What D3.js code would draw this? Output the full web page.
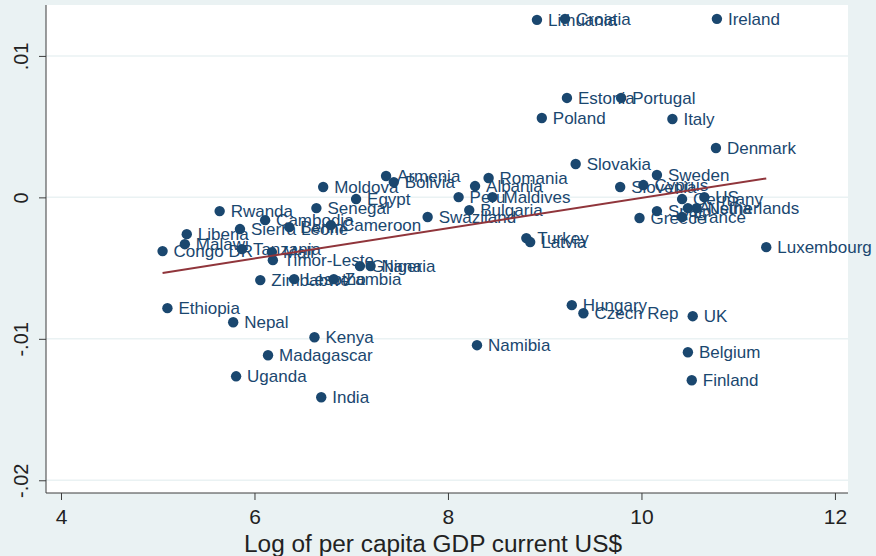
<!DOCTYPE html>
<html>
<head>
<meta charset="utf-8">
<script src="https://cdn.jsdelivr.net/npm/d3@7"></script>
<style>
  body { margin: 0; background: #eaf2f3; }
  text { font-family: "Liberation Sans", Arial, sans-serif; }
</style>
</head>
<body>
<svg id="chart"></svg>
<script>
// Countries, log GDP per capita (x) and residual (y)
const countries = ["Lithuania", "Croatia", "Ireland", "Estonia", "Portugal", "Poland", "Italy", "Denmark",
  "Slovakia", "Sweden", "Slovenia", "Cyprus", "Germany", "US", "Spain", "Greece", "France", "Austria",
  "Netherlands", "Luxembourg", "Hungary", "Czech Rep", "UK", "Belgium", "Finland", "Namibia",
  "Romania", "Albania", "Peru", "Maldives", "Bulgaria", "Turkey", "Latvia", "Swaziland",
  "Armenia", "Bolivia", "Moldova", "Egypt", "Senegal", "Cameroon", "Rwanda", "Cambodia",
  "Sierra Leone", "Benin", "Liberia", "Malawi", "Congo DR", "Tanzania", "Mali", "Timor-Leste",
  "Ghana", "Nigeria", "Zimbabwe", "Lesotho", "Zambia", "Ethiopia", "Nepal", "Kenya",
  "Madagascar", "Uganda", "India"];
const logGdp = [8.92, 9.21, 10.78, 9.23, 9.79, 8.97, 10.32, 10.77,
  9.32, 10.16, 9.78, 10.02, 10.42, 10.65, 10.16, 9.98, 10.42, 10.48,
  10.57, 11.29, 9.28, 9.40, 10.53, 10.48, 10.52, 8.30,
  8.42, 8.28, 8.11, 8.46, 8.22, 8.81, 8.85, 7.79,
  7.36, 7.44, 6.71, 7.05, 6.64, 6.79, 5.64, 6.11,
  5.85, 6.36, 5.30, 5.28, 5.05, 5.87, 6.18, 6.19,
  7.09, 7.20, 6.06, 6.41, 6.82, 5.10, 5.78, 6.62,
  6.14, 5.81, 6.69];
const resid = [0.01255, 0.01262, 0.01262, 0.00703, 0.00703, 0.00561, 0.00554, 0.00349,
  0.00236, 0.00158, 0.00073, 0.00087, -0.00012, 0.00002, -0.00097, -0.00146, -0.00139, -0.00076,
  -0.00076, -0.00352, -0.00762, -0.00819, -0.00840, -0.01095, -0.01293, -0.01045,
  0.00137, 0.00080, 0.00002, 0.00002, -0.00090, -0.00288, -0.00316, -0.00139,
  0.00151, 0.00108, 0.00073, -0.00012, -0.00076, -0.00196, -0.00097, -0.00161,
  -0.00224, -0.00210, -0.00260, -0.00331, -0.00380, -0.00366, -0.00387, -0.00444,
  -0.00486, -0.00486, -0.00585, -0.00578, -0.00578, -0.00783, -0.00883, -0.00989,
  -0.01116, -0.01265, -0.01413];

// Fitted line end points
const fitX = [5.05, 11.29];
const fitY = [-0.00534, 0.00134];

const xTicks = [4, 6, 8, 10, 12];
const yTicks = [0.01, 0, -0.01, -0.02];
const yTickLabels = [".01", "0", "-.01", "-.02"];
const xTitle = "Log of per capita GDP current US$";

const width = 876, height = 556;
const margin = {top: 5, right: 28, bottom: 63, left: 46};
const navy = "#1a476f", maroon = "#90353b", bg = "#eaf2f3";

const svg = d3.select("#chart")
    .attr("width", width)
    .attr("height", height);

svg.append("rect")
    .attr("width", width).attr("height", height)
    .attr("fill", bg);

const x = d3.scaleLinear()
    .domain([3.845, 12.135])
    .range([margin.left, width - margin.right]);
const y = d3.scaleLinear()
    .domain([-0.0209, 0.0136])
    .range([height - margin.bottom, margin.top]);

// plot region
svg.append("rect")
    .attr("x", margin.left).attr("y", margin.top)
    .attr("width", width - margin.right - margin.left)
    .attr("height", height - margin.bottom - margin.top)
    .attr("fill", "white");

// gridlines
svg.append("g")
  .selectAll("line")
  .data(yTicks)
  .join("line")
    .attr("x1", margin.left).attr("x2", width - margin.right)
    .attr("y1", d => y(d)).attr("y2", d => y(d))
    .attr("stroke", bg)
    .attr("stroke-width", 1.5);

// axes
const yAxis = svg.append("g")
    .attr("transform", `translate(${margin.left},0)`)
    .call(d3.axisLeft(y).tickValues(yTicks).tickSize(7)
      .tickFormat((d, i) => yTickLabels[i]));
yAxis.select(".domain").attr("stroke", "#3c3c3c").attr("d", `M0,${margin.top}V${height - margin.bottom}`);
yAxis.selectAll(".tick line").attr("stroke", "#3c3c3c");
yAxis.selectAll(".tick text")
    .attr("x", 0).attr("y", 0).attr("dy", 0)
    .attr("transform", "translate(-18,0) rotate(-90)")
    .attr("text-anchor", "middle")
    .attr("font-size", 20)
    .attr("fill", "#222")
    .style("font-family", "'Liberation Sans', Arial, sans-serif");

const xAxis = svg.append("g")
    .attr("transform", `translate(0,${height - margin.bottom})`)
    .call(d3.axisBottom(x).tickValues(xTicks).tickSize(7).tickFormat(d3.format("d")));
xAxis.select(".domain").attr("stroke", "#3c3c3c").attr("d", `M${margin.left},0H${width - margin.right}`);
xAxis.selectAll(".tick line").attr("stroke", "#3c3c3c");
xAxis.selectAll(".tick text")
    .attr("y", 16)
    .attr("font-size", 21)
    .attr("fill", "#222")
    .style("font-family", "'Liberation Sans Narrow', 'Liberation Sans', Arial, sans-serif");

svg.append("text")
    .attr("x", 433).attr("y", 552)
    .attr("text-anchor", "middle")
    .attr("font-size", 23)
    .attr("textLength", 378)
    .attr("lengthAdjust", "spacingAndGlyphs")
    .attr("fill", "#222")
    .style("font-family", "'Liberation Sans Narrow', 'Liberation Sans', Arial, sans-serif")
    .text(xTitle);

// points and labels
const data = countries.map((c, i) => ({name: c, gdp: logGdp[i], r: resid[i]}));

const pts = svg.append("g");
pts.selectAll("circle")
  .data(data)
  .join("circle")
    .attr("cx", d => x(d.gdp))
    .attr("cy", d => y(d.r))
    .attr("r", 5.2)
    .attr("fill", navy);

pts.selectAll("text")
  .data(data)
  .join("text")
    .attr("x", d => x(d.gdp) + 11)
    .attr("y", d => y(d.r))
    .attr("dy", "0.36em")
    .attr("font-size", 17)
    .attr("fill", navy)
    .text(d => d.name);

// fitted line
svg.append("line")
    .attr("x1", x(fitX[0])).attr("y1", y(fitY[0]))
    .attr("x2", x(fitX[1])).attr("y2", y(fitY[1]))
    .attr("stroke", maroon)
    .attr("stroke-width", 2);
</script>
</body>
</html>
